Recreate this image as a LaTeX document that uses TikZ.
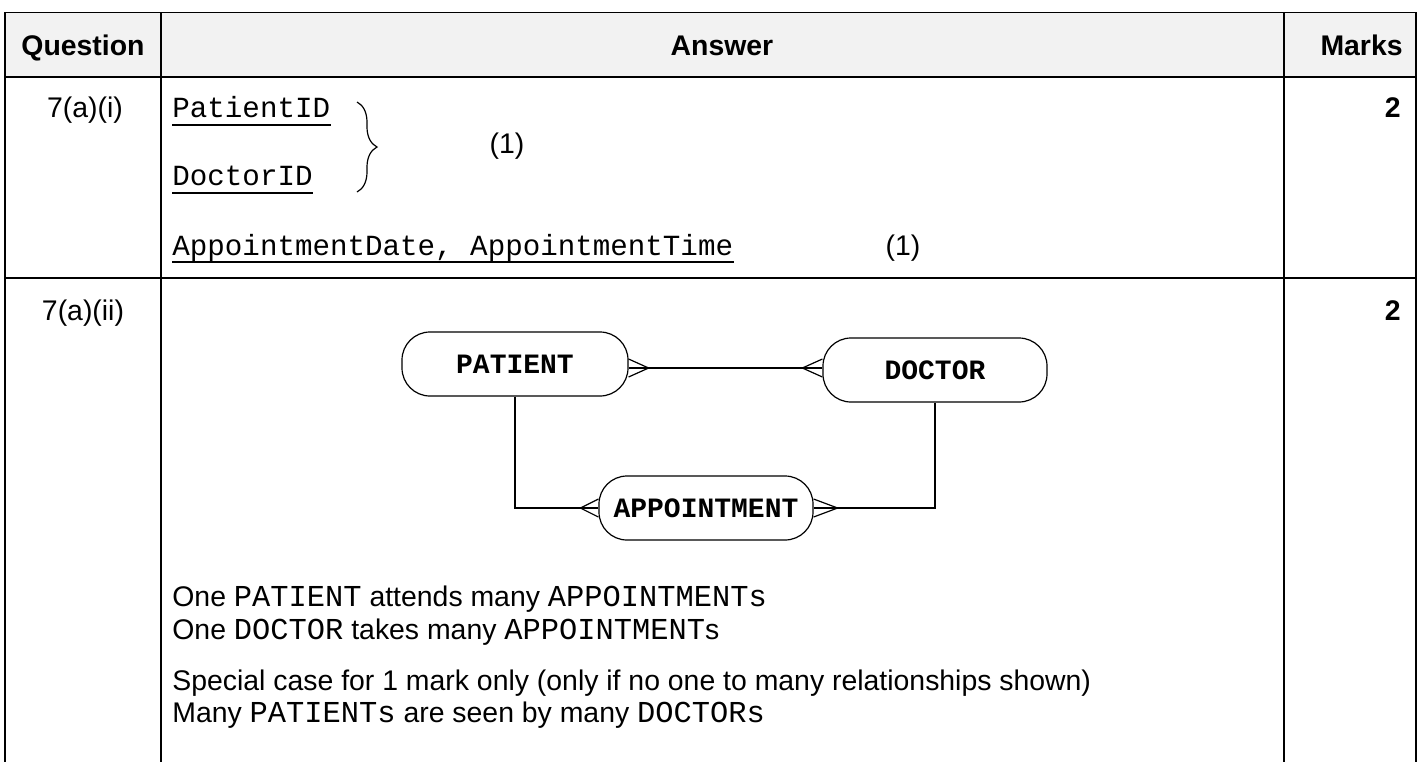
\documentclass[tikz,border=0pt]{standalone}
\usepackage{fontspec}
\setmainfont{Liberation Sans}
\setmonofont{Liberation Mono}
\usetikzlibrary{decorations.pathreplacing,calc}
\definecolor{hdrfill}{HTML}{F2F2F2}
\newcommand\cwd[1]{{\fontsize{15.2}{17}\selectfont\ttfamily #1}}
\begin{document}
\begin{tikzpicture}[x=0.5pt,y=-0.5pt,
  txt/.style={inner sep=0pt, font=\fontsize{14.2}{17}\selectfont},
  hd/.style={inner sep=0pt, font=\fontsize{14.2}{17}\selectfont\bfseries},
  code/.style={inner sep=0pt, font=\fontsize{14.6}{17}\selectfont\ttfamily},
  ent/.style={draw, line width=0.6pt, rounded corners=14pt, minimum height=32pt, inner sep=0pt, font=\fontsize{14}{16}\selectfont\ttfamily\bfseries},
  rel/.style={line width=0.6pt},
  gridline/.style={line width=1pt},
  thinline/.style={line width=0.5pt},
  uline/.style={line width=0.7pt}]
\useasboundingbox (0,0) rectangle (1420,762);
% header background
\fill[hdrfill] (5,12) rectangle (1416,77);
% table rules
\draw[thinline] (5,12) -- (1416,12);
\draw[gridline] (5,77) -- (1416,77);
\draw[gridline] (5,278) -- (1416,278);
\draw[gridline] (5,12) -- (5,762);
\draw[gridline] (161,12) -- (161,762);
\draw[gridline] (1284,12) -- (1284,762);
\draw[gridline] (1416,12) -- (1416,762);
% header
\node[hd, anchor=base] (qh) at (83,55) {Question};
\node[hd, anchor=base] (ah) at (722,55) {Answer};
\node[hd, anchor=base east] (mh) at (1403,55) {Marks};
% row 1
\node[txt, anchor=base] (q1) at (85,117) {7(a)(i)};
\node[hd, anchor=base east] (k1) at (1401,117) {2};
\node[code, anchor=base west] (pid) at (172,117) {PatientID};
\draw[uline] ([yshift=-4pt]pid.base west) -- ([yshift=-4pt]pid.base east);
\node[code, anchor=base west] (did) at (172,185) {DoctorID};
\draw[uline] ([yshift=-4pt]did.base west) -- ([yshift=-4pt]did.base east);
\draw[line width=0.6pt, decorate, decoration={brace, amplitude=10pt}] (357,102) -- (357,192);
\node[txt] (m1) at (507,146) {(1)};
\node[code, anchor=base west] (adt) at (172,255) {AppointmentDate, AppointmentTime};
\draw[uline] ([yshift=-3.5pt]adt.base west) -- ([yshift=-3.5pt]adt.base east);
\node[txt] (m2) at (903,248) {(1)};
% row 2
\node[txt, anchor=base] (q2) at (83,320) {7(a)(ii)};
\node[hd, anchor=base east] (k2) at (1401,320) {2};
% ER diagram
\node[ent, minimum width=113pt] (pat) at (515,364) {PATIENT};
\node[ent, minimum width=112pt] (doc) at (935,370) {DOCTOR};
\node[ent, minimum width=107pt] (app) at (706,508) {APPOINTMENT};
\coordinate (ly) at (0,368);
\coordinate (pe) at (pat.east |- ly);
\coordinate (de) at (doc.west |- ly);
\draw[rel] ([yshift=4.5pt]pe) -- ([xshift=10pt]pe) -- ([yshift=-4.5pt]pe);
\draw[rel] (pe) -- ([xshift=-10pt]de) -- (de);
\draw[rel] ([yshift=4.5pt]de) -- ([xshift=-10pt]de) -- ([yshift=-4.5pt]de);
\draw[rel] (pat.south) |- ([xshift=-9pt]app.west) -- (app.west);
\draw[rel] ([yshift=4.5pt]app.west) -- ([xshift=-9pt]app.west) -- ([yshift=-4.5pt]app.west);
\draw[rel] (doc.south) |- ([xshift=12pt]app.east) -- (app.east);
\draw[rel] ([yshift=4.5pt]app.east) -- ([xshift=12pt]app.east) -- ([yshift=-4.5pt]app.east);
% statements
\node[txt, anchor=base west] (s1) at (172,606) {One \cwd{PATIENT} attends many \cwd{APPOINTMENTs}};
\node[txt, anchor=base west] (s2) at (172,639) {One \cwd{DOCTOR} takes many \cwd{APPOINTMENT}s};
\node[txt, anchor=base west] (s3) at (172,690) {Special case for 1 mark only (only if no one to many relationships shown)};
\node[txt, anchor=base west] (s4) at (172,722) {Many \cwd{PATIENTs} are seen by many \cwd{DOCTORs}};
\end{tikzpicture}
\end{document}
